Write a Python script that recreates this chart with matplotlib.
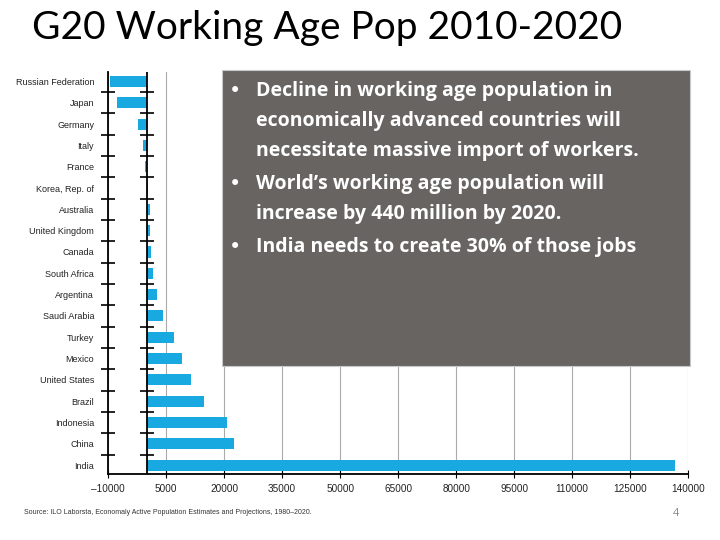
import matplotlib.pyplot as plt
from matplotlib.patches import Rectangle

# change in working age population 2010-2020 (thousands)
countries = ['Russian Federation', 'Japan', 'Germany', 'Italy', 'France',
             'Korea, Rep. of', 'Australia', 'United Kingdom', 'Canada',
             'South Africa', 'Argentina', 'Saudi Arabia', 'Turkey', 'Mexico',
             'United States', 'Brazil', 'Indonesia', 'China', 'India']
change = [-9500, -7600, -2200, -900, -400, 300, 900, 900, 1100, 1600,
          2700, 4250, 7000, 9050, 11500, 14850, 20650, 22650, 136500]
xticks = [-10000, 5000, 20000, 35000, 50000, 65000, 80000, 95000,
          110000, 125000, 140000]

bullets = [
    ['Decline in working age population in',
     'economically advanced countries will',
     'necessitate massive import of workers.'],
    ['World\u2019s working age population will',
     'increase by 440 million by 2020.'],
    ['India needs to create 30% of those jobs'],
]

narrow = ['Liberation Sans', 'DejaVu Sans']
body = ['Open Sans', 'DejaVu Sans']

fig = plt.figure(figsize=(7.2, 5.4), dpi=100)
ax = fig.add_axes([0.15, 0.122, 0.806, 0.745])

ypos = list(range(len(countries)))
ax.barh(ypos, change, height=0.52, color='#19a9e1', zorder=3)
ax.set_ylim(len(countries) - 0.58, -0.45)
ax.set_xlim(-10000, 140000)

ax.set_xticks(xticks)
ax.set_xticklabels([str(t).replace('-', '\u2013') for t in xticks],
                   family=narrow, fontsize=7.2, color='#222222')
ax.set_yticks(ypos)
ax.set_yticklabels(countries, family=narrow, fontsize=6.5, color='#222222')
ax.tick_params(axis='y', which='major', length=0, pad=10)
ax.set_yticks([i + 0.5 for i in ypos[:-1]], minor=True)
ax.tick_params(axis='y', which='minor', length=10, direction='inout',
               width=1.2, color='black')
ax.tick_params(axis='x', which='major', length=6, direction='inout',
               color='black', pad=4)

ax.xaxis.grid(True, color='#aaaaaa', lw=0.8, zorder=0)
ax.axvline(0, color='black', lw=1.3, zorder=4)
# tick marks on the zero line
ax.plot([0] * (len(countries) - 1), [i + 0.5 for i in ypos[:-1]],
        ls='none', marker='_', ms=10, mew=1.2, color='black', zorder=5)

for side in ['top', 'right']:
    ax.spines[side].set_visible(False)
ax.spines['left'].set_linewidth(1.3)
ax.spines['bottom'].set_linewidth(1.3)

fig.text(32 / 720, 1 - 28 / 540, 'G20 Working Age Pop 2010-2020',
         family=['Lato', 'DejaVu Sans'], fontsize=28, va='center',
         ha='left', color='black')

# text box over the chart
fig.patches.append(Rectangle((222 / 720, 1 - 366 / 540), 468 / 720, 296 / 540,
                             transform=fig.transFigure, facecolor='#676462',
                             edgecolor='#c8c8c8', lw=0.8, zorder=10))
y = 91
for lines in bullets:
    fig.text(229 / 720, 1 - y / 540, '\u2022', family=['DejaVu Sans'],
             fontsize=15, color='white', va='center', zorder=11)
    for line in lines:
        fig.text(256 / 720, 1 - y / 540, line, family=body, fontsize=14,
                 fontweight='bold', color='white', va='center', zorder=11)
        y += 30
    y += 3

fig.text(24 / 720, 1 - 512 / 540,
         'Source: ILO Laborsta, Economaly Active Population Estimates and Projections, 1980\u20132020.',
         family=narrow, fontsize=5, color='#333333', va='center')
fig.text(673 / 720, 1 - 514 / 540, '4', family=body, fontsize=8,
         color='#8a8a8a', va='center')

fig.savefig('out.png', dpi=100)
